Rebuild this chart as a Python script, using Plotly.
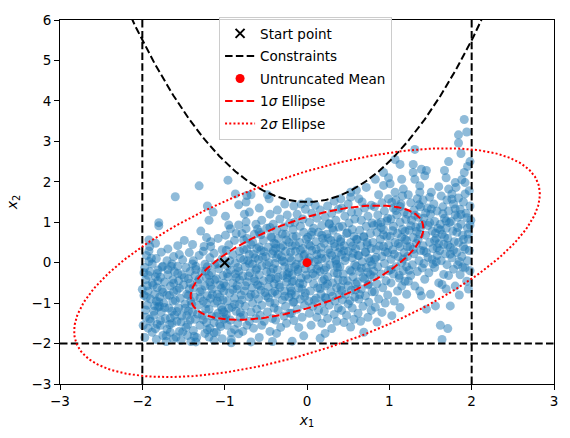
import numpy as np
import plotly.graph_objects as go

# ---------------- data ----------------
samples = [
# x1 in [-2.0,-1.8]
(-1.97,-1.85),(-1.93,-1.62),(-1.88,-1.72),(-1.83,-1.9),(-1.96,-1.35),(-1.9,-1.45),(-1.82,-1.52),(-1.99,-1.55),
(-1.86,-1.2),(-1.94,-1.05),(-1.81,-1.1),(-1.9,-0.9),(-1.85,-0.78),(-2.0,-0.66),(-1.93,-0.7),(-1.82,-0.62),
(-1.88,-0.5),(-1.96,-0.42),(-1.84,-0.35),(-1.91,-0.22),(-1.81,-0.18),(-1.97,-0.12),(-1.88,-0.03),(-1.92,0.03),
(-1.83,0.1),(-1.95,0.18),(-1.92,0.29),(-1.91,0.4),(-1.84,0.48),(-1.92,0.56),(-1.8,0.91),(-1.8,0.99),
(-1.86,-1.3),(-1.83,-0.95),(-1.95,-0.85),(-1.81,-0.45),(-1.98,-0.25),
# x1 in [-1.8,-1.6]
(-1.75,-1.8),(-1.62,-1.88),(-1.7,-1.65),(-1.78,-1.55),(-1.64,-1.5),(-1.72,-1.38),(-1.61,-1.3),(-1.77,-1.22),
(-1.68,-1.12),(-1.74,-1.0),(-1.63,-0.95),(-1.79,-0.85),(-1.7,-0.8),(-1.62,-0.72),(-1.76,-0.66),(-1.66,-0.58),
(-1.73,-0.48),(-1.63,-0.42),(-1.78,-0.36),(-1.69,-0.3),(-1.61,-0.22),(-1.75,-0.09),(-1.65,-0.09),(-1.7,0.05),
(-1.77,0.26),(-1.69,0.34),(-1.62,0.15),(-1.6,1.63),(-1.71,-1.95),(-1.66,-1.72),(-1.79,-1.08),(-1.64,-1.2),
# x1 in [-1.6,-1.4]
(-1.57,0.42),(-1.51,0.07),(-1.57,-0.09),(-1.59,-1.84),(-1.45,-1.8),(-1.55,-1.7),(-1.47,-1.6),(-1.58,-1.45),
(-1.42,-1.42),(-1.52,-1.32),(-1.44,-1.2),(-1.56,-1.12),(-1.48,-1.02),(-1.41,-0.95),(-1.54,-0.88),(-1.46,-0.78),
(-1.58,-0.68),(-1.43,-0.65),(-1.5,-0.55),(-1.56,-0.45),(-1.44,-0.4),(-1.52,-0.3),(-1.42,-0.22),(-1.47,-0.12),
(-1.55,0.2),(-1.43,0.25),(-1.49,0.55),(-1.41,-1.95),(-1.53,-1.92),
# x1 in [-1.4,-1.2]
(-1.31,1.9),(-1.21,1.4),(-1.29,0.78),(-1.35,-0.09),(-1.31,0.18),(-1.25,0.4),(-1.35,-1.96),(-1.24,-1.75),
(-1.38,-1.68),(-1.3,-1.55),(-1.22,-1.48),(-1.36,-1.4),(-1.27,-1.3),(-1.39,-1.22),(-1.23,-1.15),(-1.32,-1.05),
(-1.26,-0.95),(-1.37,-0.85),(-1.21,-0.82),(-1.3,-0.72),(-1.38,-0.62),(-1.24,-0.58),(-1.33,-0.48),(-1.22,-0.38),
(-1.36,-0.32),(-1.28,-0.22),(-1.21,-0.1),(-1.38,0.05),(-1.26,0.28),(-1.39,0.45),(-1.22,0.62),(-1.34,-1.85),
# x1 in [-1.2,-1.0]
(-1.14,1.25),(-1.19,1.05),(-1.17,0.52),(-1.17,0.4),(-1.13,0.23),(-1.03,0.32),(-1.19,-1.84),(-1.03,-1.88),
(-1.1,-1.72),(-1.18,-1.62),(-1.05,-1.58),(-1.13,-1.48),(-1.01,-1.4),(-1.16,-1.32),(-1.08,-1.25),(-1.19,-1.15),
(-1.04,-1.1),(-1.12,-1.0),(-1.02,-0.92),(-1.17,-0.88),(-1.09,-0.78),(-1.01,-0.7),(-1.15,-0.65),(-1.06,-0.55),
(-1.18,-0.48),(-1.1,-0.4),(-1.02,-0.32),(-1.16,-0.25),(-1.07,-0.15),(-1.12,-0.05),(-1.03,0.1),(-1.18,0.12),
(-1.08,0.6),(-1.13,-1.92),(-1.01,-1.22),(-1.06,-0.85),
# x1 in [-1.0,-0.8]
(-0.96,2.04),(-0.87,1.7),(-0.83,1.43),(-0.99,1.15),(-0.95,0.93),(-0.93,0.84),(-0.83,0.93),(-0.99,0.68),
(-0.95,0.44),(-0.87,-0.01),(-0.81,0.11),(-0.83,-1.76),(-0.92,-1.9),(-0.88,-1.65),(-0.97,-1.55),(-0.84,-1.5),
(-0.93,-1.42),(-0.81,-1.35),(-0.98,-1.28),(-0.86,-1.2),(-0.91,-1.1),(-0.82,-1.02),(-0.97,-0.95),(-0.88,-0.88),
(-0.8,-0.8),(-0.94,-0.75),(-0.85,-0.66),(-0.99,-0.58),(-0.9,-0.5),(-0.82,-0.42),(-0.96,-0.35),(-0.87,-0.28),
(-0.93,-0.18),(-0.84,-0.12),(-0.97,-0.08),(-0.9,0.2),(-0.82,0.28),(-0.98,0.3),(-0.88,0.55),(-0.86,0.72),(-0.92,-1.98),
# x1 in [-0.8,-0.6]
(-0.74,1.5),(-0.74,1.01),(-0.74,0.84),(-0.77,0.32),(-0.77,0.56),(-0.79,0.72),(-0.73,0.6),(-0.68,1.68),
(-0.73,1.66),(-0.68,-1.96),(-0.73,-1.55),(-0.78,-1.7),(-0.65,-1.62),(-0.7,-1.45),(-0.62,-1.38),(-0.77,-1.3),
(-0.68,-1.22),(-0.61,-1.15),(-0.75,-1.08),(-0.66,-1.0),(-0.79,-0.92),(-0.7,-0.85),(-0.63,-0.78),(-0.76,-0.7),
(-0.67,-0.62),(-0.6,-0.55),(-0.73,-0.48),(-0.64,-0.4),(-0.78,-0.33),(-0.69,-0.25),(-0.62,-0.18),(-0.75,-0.1),
(-0.66,-0.03),(-0.72,0.05),(-0.63,0.12),(-0.7,0.2),(-0.61,0.35),(-0.68,0.45),(-0.64,0.7),(-0.7,1.25),
(-0.62,0.95),(-0.76,1.2),
# x1 in [-0.6,-0.4]
(-0.48,1.68),(-0.46,1.58),(-0.55,-1.55),(-0.58,-1.85),(-0.45,-1.7),(-0.52,-1.45),(-0.42,-1.38),(-0.57,-1.3),
(-0.48,-1.22),(-0.4,-1.12),(-0.55,-1.05),(-0.45,-0.98),(-0.59,-0.9),(-0.5,-0.82),(-0.42,-0.75),(-0.56,-0.68),
(-0.47,-0.6),(-0.4,-0.52),(-0.53,-0.45),(-0.44,-0.38),(-0.58,-0.3),(-0.49,-0.22),(-0.41,-0.15),(-0.55,-0.08),
(-0.46,0.0),(-0.59,0.08),(-0.5,0.15),(-0.42,0.22),(-0.56,0.3),(-0.47,0.38),(-0.4,0.48),(-0.53,0.55),
(-0.44,0.65),(-0.58,0.75),(-0.49,0.85),(-0.41,0.95),(-0.55,1.05),(-0.45,1.2),(-0.58,1.35),(-0.42,-1.95),
# x1 in [-0.4,-0.2]
(-0.37,-1.75),(-0.32,-1.6),(-0.25,-1.5),(-0.38,-1.42),(-0.28,-1.32),(-0.21,-1.25),(-0.35,-1.18),(-0.26,-1.08),
(-0.39,-1.0),(-0.3,-0.92),(-0.22,-0.85),(-0.36,-0.78),(-0.27,-0.7),(-0.2,-0.62),(-0.34,-0.55),(-0.25,-0.48),
(-0.38,-0.4),(-0.29,-0.32),(-0.22,-0.25),(-0.36,-0.18),(-0.27,-0.1),(-0.39,-0.02),(-0.3,0.05),(-0.21,0.12),
(-0.35,0.2),(-0.26,0.28),(-0.38,0.35),(-0.29,0.42),(-0.22,0.5),(-0.35,0.6),(-0.26,0.7),(-0.37,0.8),
(-0.28,0.88),(-0.21,0.98),(-0.33,1.08),(-0.24,1.18),(-0.36,1.3),(-0.27,1.45),(-0.31,0.15),(-0.24,-0.38),
# x1 in [-0.2,0.0]
(-0.18,-1.94),(-0.04,-1.81),(-0.16,-1.43),(-0.1,-1.6),(-0.06,-1.35),(-0.19,-1.25),(-0.12,-1.15),(-0.03,-1.05),
(-0.17,-0.98),(-0.08,-0.9),(-0.14,-0.8),(-0.02,-0.75),(-0.19,-0.7),(-0.1,-0.62),(-0.05,-0.52),(-0.16,-0.45),
(-0.07,-0.38),(-0.18,-0.3),(-0.11,-0.22),(-0.02,-0.15),(-0.15,-0.1),(-0.06,-0.02),(-0.19,0.05),(-0.1,0.12),
(-0.03,0.2),(-0.14,0.28),(-0.05,0.35),(-0.18,0.42),(-0.09,0.5),(-0.01,0.58),(-0.13,0.65),(-0.04,0.75),
(-0.17,0.82),(-0.08,0.9),(-0.15,1.0),(-0.05,1.08),(-0.12,1.2),(-0.02,1.32),(-0.16,1.4),(-0.07,1.45),
# x1 in [0.0,0.2]
(0.16,-1.87),(0.12,-1.35),(0.05,-1.55),(0.18,-1.5),(0.03,-1.25),(0.14,-1.18),(0.07,-1.08),(0.19,-1.0),
(0.02,-0.95),(0.11,-0.88),(0.17,-0.78),(0.04,-0.7),(0.13,-0.62),(0.08,-0.52),(0.19,-0.45),(0.01,-0.4),
(0.1,-0.32),(0.16,-0.22),(0.05,-0.15),(0.14,-0.08),(0.09,0.02),(0.18,0.1),(0.03,0.12),(0.12,0.2),
(0.06,0.3),(0.17,0.38),(0.02,0.45),(0.11,0.52),(0.19,0.6),(0.05,0.68),(0.14,0.75),(0.08,0.85),
(0.18,0.92),(0.03,1.0),(0.12,1.1),(0.06,1.22),(0.16,1.3),(0.1,1.42),(0.02,1.5),
# x1 in [0.2,0.4]
(0.3,-1.63),(0.22,-1.75),(0.36,-1.45),(0.25,-1.38),(0.33,-1.28),(0.21,-1.2),(0.38,-1.12),(0.27,-1.05),
(0.34,-0.95),(0.23,-0.88),(0.39,-0.8),(0.29,-0.72),(0.36,-0.62),(0.22,-0.58),(0.31,-0.5),(0.38,-0.42),
(0.25,-0.35),(0.33,-0.25),(0.21,-0.18),(0.37,-0.12),(0.28,-0.05),(0.35,0.05),(0.23,0.1),(0.3,0.18),
(0.38,0.25),(0.26,0.32),(0.34,0.4),(0.21,0.48),(0.29,0.55),(0.37,0.62),(0.24,0.7),(0.32,0.8),
(0.39,0.88),(0.27,0.95),(0.35,1.05),(0.22,1.12),(0.3,1.22),(0.38,1.32),(0.25,1.4),(0.33,1.52),
# x1 in [0.4,0.6]
(0.41,1.58),(0.53,1.62),(0.53,1.74),(0.53,-1.59),(0.45,-1.48),(0.57,-1.4),(0.48,-1.3),(0.42,-1.18),
(0.55,-1.12),(0.5,-1.02),(0.43,-0.92),(0.58,-0.85),(0.47,-0.78),(0.54,-0.68),(0.41,-0.6),(0.59,-0.52),
(0.49,-0.45),(0.56,-0.35),(0.44,-0.28),(0.52,-0.18),(0.4,-0.1),(0.58,-0.05),(0.46,0.05),(0.55,0.12),
(0.42,0.2),(0.5,0.28),(0.59,0.35),(0.45,0.42),(0.53,0.5),(0.41,0.58),(0.57,0.65),(0.48,0.72),
(0.55,0.82),(0.43,0.9),(0.51,0.98),(0.58,1.08),(0.46,1.15),(0.54,1.25),(0.42,1.35),(0.5,1.45),
# x1 in [0.6,0.8]
(0.6,1.79),(0.63,1.58),(0.72,1.86),(0.69,-1.72),(0.65,-1.45),(0.74,-1.35),(0.62,-1.25),(0.78,-1.18),
(0.68,-1.08),(0.75,-0.98),(0.63,-0.9),(0.71,-0.82),(0.79,-0.72),(0.66,-0.65),(0.74,-0.55),(0.61,-0.48),
(0.7,-0.4),(0.77,-0.3),(0.64,-0.22),(0.72,-0.12),(0.79,-0.05),(0.67,0.02),(0.75,0.1),(0.62,0.18),
(0.71,0.25),(0.78,0.35),(0.65,0.42),(0.73,0.5),(0.6,0.58),(0.69,0.65),(0.77,0.72),(0.64,0.8),
(0.72,0.9),(0.79,0.98),(0.66,1.05),(0.74,1.15),(0.62,1.25),(0.7,1.35),(0.78,1.42),(0.67,1.5),
# x1 in [0.8,1.0]
(0.83,2.06),(0.93,2.23),(0.93,1.91),(0.99,2.1),(0.85,-1.47),(0.91,-1.23),(0.83,-1.1),(0.95,-1.0),
(0.87,-0.9),(0.98,-0.8),(0.82,-0.72),(0.92,-0.62),(0.85,-0.52),(0.96,-0.45),(0.81,-0.35),(0.9,-0.28),
(0.99,-0.2),(0.86,-0.1),(0.94,-0.02),(0.82,0.08),(0.91,0.15),(0.98,0.25),(0.84,0.32),(0.93,0.4),
(0.8,0.5),(0.89,0.58),(0.97,0.65),(0.85,0.75),(0.93,0.82),(0.81,0.92),(0.9,1.0),(0.98,1.1),
(0.86,1.18),(0.94,1.28),(0.82,1.38),(0.91,1.48),(0.99,1.58),(0.87,1.68),
# x1 in [1.0,1.2]
(1.07,2.55),(1.13,2.43),(1.15,2.06),(1.17,1.82),(1.07,1.74),(1.03,-1.31),(1.13,-1.11),(1.15,-0.58),
(1.21,-0.78),(1.19,-0.46),(1.06,-0.95),(1.1,-0.7),(1.02,-0.5),(1.12,-0.38),(1.05,-0.28),(1.17,-0.2),
(1.08,-0.1),(1.15,0.0),(1.02,0.08),(1.11,0.15),(1.18,0.25),(1.04,0.32),(1.13,0.4),(1.07,0.5),
(1.19,0.58),(1.01,0.65),(1.1,0.72),(1.16,0.82),(1.05,0.9),(1.13,1.0),(1.02,1.08),(1.09,1.18),
(1.18,1.25),(1.05,1.35),(1.14,1.45),(1.08,1.55),(1.16,1.65),(1.01,1.95),
# x1 in [1.2,1.4]
(1.31,2.8),(1.29,2.43),(1.29,2.23),(1.31,2.06),(1.37,1.9),(1.39,2.31),(1.37,1.74),(1.37,-0.7),
(1.39,-0.82),(1.23,-0.46),(1.21,-0.1),(1.26,-0.32),(1.34,-0.22),(1.28,-0.05),(1.36,0.05),(1.22,0.15),
(1.3,0.22),(1.38,0.3),(1.25,0.4),(1.33,0.48),(1.21,0.55),(1.29,0.62),(1.37,0.7),(1.24,0.8),
(1.32,0.88),(1.4,0.95),(1.27,1.05),(1.35,1.12),(1.22,1.2),(1.3,1.3),(1.38,1.38),(1.26,1.48),
(1.34,1.58),(1.23,1.68),(1.31,-0.58),
# x1 in [1.4,1.6]
(1.45,2.28),(1.43,2.15),(1.6,1.88),(1.51,1.74),(1.43,-0.41),(1.5,-0.78),(1.45,-1.15),(1.56,-1.07),
(1.48,-0.25),(1.55,-0.12),(1.42,-0.02),(1.52,0.08),(1.58,0.18),(1.45,0.25),(1.53,0.35),(1.41,0.42),
(1.49,0.5),(1.57,0.6),(1.44,0.68),(1.52,0.78),(1.59,0.85),(1.47,0.92),(1.55,1.02),(1.42,1.1),
(1.5,1.2),(1.58,1.28),(1.46,1.35),(1.54,1.45),(1.41,1.55),(1.49,1.62),(1.57,0.02),(1.6,-0.5),
# x1 in [1.6,1.8]
(1.72,2.5),(1.67,2.28),(1.69,2.1),(1.72,1.82),(1.66,-0.29),(1.64,-0.54),(1.78,-0.16),(1.69,-0.65),
(1.74,-1.07),(1.62,-1.55),(1.71,-1.63),(1.64,-1.9),(1.8,-0.58),(1.7,-0.05),(1.63,0.05),(1.76,0.12),
(1.68,0.22),(1.61,0.3),(1.74,0.38),(1.66,0.45),(1.79,0.52),(1.71,0.6),(1.64,0.7),(1.77,0.78),
(1.69,0.85),(1.62,0.95),(1.75,1.02),(1.67,1.1),(1.8,1.18),(1.72,1.28),(1.65,1.38),(1.78,1.45),
(1.7,1.55),(1.63,1.65),(1.76,1.7),(1.8,1.98),(1.72,-0.32),
# x1 in [1.8,2.0]
(1.91,3.54),(1.84,3.16),(1.94,3.23),(1.84,2.96),(1.98,2.5),(1.91,2.23),(1.92,1.98),(1.81,1.86),
(1.92,1.7),(1.92,-0.13),(1.94,-0.46),(1.86,-0.3),(1.98,-0.2),(1.83,-0.05),(1.95,0.05),(1.88,0.15),
(1.82,0.25),(1.97,0.3),(1.9,0.4),(1.84,0.5),(1.96,0.58),(1.89,0.68),(1.82,0.75),(1.95,0.85),
(1.87,0.95),(1.99,1.05),(1.83,1.12),(1.93,1.22),(1.86,1.32),(1.98,1.4),(1.9,1.5),(1.84,1.6),
(1.97,1.78),(1.88,2.05),(1.95,2.38),(1.87,2.7),(1.96,-0.65),(1.85,-0.8),
# denser core (centre)
(-0.71,-0.33),(-0.52,0.27),(-0.33,-0.61),(-0.14,0.43),(0.07,-0.27),(0.26,0.61),(0.44,-0.44),(0.63,0.17),(-0.66,0.51),(-0.47,-0.87),
(-0.28,0.02),(-0.09,-0.51),(0.11,0.33),(0.31,-0.83),(0.49,0.74),(0.68,-0.36),(-0.61,-0.14),(-0.43,0.62),(-0.24,-0.29),(-0.04,0.17),
(0.16,-0.64),(0.35,0.08),(0.54,-0.21),(0.73,0.44),(-0.77,0.07),(-0.57,-0.58),(-0.38,0.46),(-0.19,-0.77),(0.01,0.63),(0.21,-0.41),
(0.4,0.37),(0.59,-0.67),(0.77,0.03),(-0.68,-0.79),(-0.49,-0.05),(-0.3,0.71),(-0.11,-0.17),(0.09,-0.93),(0.28,0.24),(0.47,0.13),
(0.66,-0.14),(-0.73,0.34),(-0.54,0.13),(-0.35,-0.36),(-0.16,-0.97),(0.04,0.41),(0.23,-0.12),(0.42,-0.69),(0.61,0.57),(-0.63,-0.46),
(-0.44,-0.23),(-0.25,0.56),(-0.06,-0.66),(0.13,0.07),(0.33,0.47),(0.52,-0.94),(0.71,0.27),(-0.58,0.39),(-0.39,-0.71),(-0.2,0.26),
(-0.01,-0.31),(0.18,0.68),(0.37,-0.27),(0.56,0.23),(0.75,-0.53),(-0.75,-0.57),(-0.56,0.69),(-0.37,0.12),(-0.18,-0.47),(0.02,0.04),
(0.22,-0.86),(0.41,0.52),(0.6,-0.09),(-0.65,0.21),(-0.46,-0.41),(-0.27,-0.83),(-0.08,0.31),(0.12,-0.16),(0.31,0.86),(0.5,-0.57),
(0.69,0.63),(-0.7,-0.02),(-0.51,-0.74),(-0.32,0.37),(-0.13,-0.04),(0.06,0.76),(0.25,-0.53),(0.45,0.29),(0.64,-0.79),(-0.6,0.83),
(-0.41,0.29),(-0.22,-0.14),(-0.03,-0.84),(0.17,0.22),(0.36,-0.04),(0.55,0.41),(0.74,-0.24),(-0.45,0.87),(0.27,0.97),(-0.17,0.64),
# denser core (left)
(-1.96,-1.17),(-1.87,-0.56),(-1.78,-1.43),(-1.69,-0.17),(-1.6,-0.93),(-1.51,-1.71),(-1.42,-0.51),(-1.33,-1.27),(-1.24,-0.04),(-1.15,-0.79),
(-1.06,-1.52),(-0.97,-0.27),(-0.88,-1.03),(-1.93,-0.31),(-1.84,-1.63),(-1.75,-0.73),(-1.66,-1.37),(-1.57,-0.27),(-1.48,-1.13),(-1.39,-0.03),
(-1.3,-0.87),(-1.21,-1.66),(-1.12,-0.43),(-1.03,-1.17),(-0.94,0.05),(-0.85,-0.57),(-1.98,-0.81),(-1.89,0.11),(-1.8,-0.97),(-1.71,-1.81),
(-1.62,-0.51),(-1.53,-1.47),(-1.44,-0.81),(-1.35,-0.17),(-1.26,-1.41),(-1.17,-0.57),(-1.08,-0.03),(-0.99,-1.37),(-0.9,-0.67),(-0.81,-1.23),
(-1.91,-1.39),(-1.82,-0.27),(-1.73,-1.11),(-1.64,-0.03),(-1.55,-0.63),(-1.46,-1.31),(-1.37,-1.82),(-1.28,-0.67),(-1.19,-0.31),(-1.1,-1.33),
(-1.01,-0.51),(-0.92,-1.73),(-0.83,-0.21),(-1.94,-0.57),(-1.85,-1.07),(-1.76,-0.11),(-1.67,-0.81),(-1.58,-1.21),(-1.49,-0.37),(-1.4,-1.03),
(-1.31,-0.41),(-1.22,-1.01),(-1.13,-1.73),(-1.04,-0.63),(-0.95,-1.13),(-0.86,-0.37),(-1.67,-1.53),(-1.45,-1.53),(-1.23,-0.21),(-1.09,-0.95),
# denser core (right)
(0.84,0.13),(0.93,0.69),(1.02,-0.17),(1.11,0.47),(1.2,1.07),(1.29,0.33),(1.38,0.87),(1.47,0.13),(1.56,0.73),(1.65,1.21),
(1.74,0.21),(1.83,0.87),(1.92,0.33),(0.88,0.41),(0.97,1.03),(1.06,0.21),(1.15,0.63),(1.24,-0.19),(1.33,0.77),(1.42,0.29),
(1.51,1.33),(1.6,0.47),(1.69,1.03),(1.78,0.31),(1.87,1.19),(1.96,0.71),(0.81,-0.21),(0.9,0.87),(0.99,0.43),(1.08,1.29),
(1.17,0.09),(1.26,0.91),(1.35,0.57),(1.44,1.23),(1.53,-0.03),(1.62,0.81),(1.71,0.43),(1.8,1.33),(1.89,-0.11),(1.98,0.93),
(0.86,0.97),(0.95,0.27),(1.04,0.79),(1.13,1.39),(1.22,0.39),(1.31,1.17),(1.4,-0.13),(1.49,0.99),(1.58,0.37),(1.67,0.63),
(1.76,1.57),(1.85,0.03),(1.94,1.11),(1.03,1.49),(1.19,0.77),(1.36,1.43),(1.55,0.55),(1.73,0.99),(1.9,0.57),(1.12,-0.31),
]
sample_x1 = [p[0] for p in samples]
sample_x2 = [p[1] for p in samples]

start_point = [-1.0, 0.0]
mean = [0.0, 0.0]
cov = [[2.0, 1.2], [1.2, 2.0]]
x1_bounds = [-2.0, 2.0]
x2_lower = -2.0
parabola_offset = 1.5          # x2 <= x1^2 + offset
x_range = [-3, 3]
y_range = [-3, 6]

# ---------------- figure ----------------
BLUE = "#1f77b4"
FONT = "DejaVu Sans"
fig = go.Figure()

fig.add_trace(go.Scatter(x=sample_x1, y=sample_x2, mode="markers", showlegend=False,
                         marker=dict(color=BLUE, size=9, opacity=0.5, line=dict(width=0)),
                         hoverinfo="skip"))

L = np.linalg.cholesky(np.array(cov))
t = np.linspace(0, 2 * np.pi, 300)
circ = np.vstack([np.cos(t), np.sin(t)])

fig.add_trace(go.Scatter(x=[start_point[0]], y=[start_point[1]], mode="markers",
                         name="Start point", legendgroup="a",
                         marker=dict(symbol="x-thin", size=9, color="black",
                                     line=dict(width=2, color="black"))))

dash_k = "7.5px,3.3px"
pc_x = np.linspace(-2.3, 2.3, 300)
pc_y = pc_x ** 2 + parabola_offset
fig.add_trace(go.Scatter(x=[x1_bounds[0], x1_bounds[0]], y=y_range, mode="lines",
                         name="Constraints", legendgroup="b",
                         line=dict(color="black", width=2, dash=dash_k)))
fig.add_trace(go.Scatter(x=[x1_bounds[1], x1_bounds[1]], y=y_range, mode="lines",
                         showlegend=False, legendgroup="b",
                         line=dict(color="black", width=2, dash=dash_k)))
fig.add_trace(go.Scatter(x=x_range, y=[x2_lower, x2_lower], mode="lines",
                         showlegend=False, legendgroup="b",
                         line=dict(color="black", width=2, dash=dash_k)))
fig.add_trace(go.Scatter(x=pc_x, y=pc_y, mode="lines", showlegend=False, legendgroup="b",
                         line=dict(color="black", width=2, dash=dash_k)))

fig.add_trace(go.Scatter(x=[mean[0]], y=[mean[1]], mode="markers",
                         name="Untruncated Mean", legendgroup="c",
                         marker=dict(symbol="circle", size=9, color="red")))

for k, nm, dsh, grp in [(1, "1<i>σ</i> Ellipse", "7.5px,3.3px", "d"),
                        (2, "2<i>σ</i> Ellipse", "2px,2.2px", "e")]:
    pts = np.array(mean)[:, None] + k * (L @ circ)
    fig.add_trace(go.Scatter(x=pts[0], y=pts[1], mode="lines", name=nm, legendgroup=grp,
                             line=dict(color="red", width=2, dash=dsh)))

axis_common = dict(showgrid=False, zeroline=False, showline=True, mirror=True,
                   linecolor="black", linewidth=1, ticks="outside", ticklen=5,
                   tickwidth=1, tickcolor="black", dtick=1,
                   tickfont=dict(family=FONT, size=13.5, color="black"))
fig.update_xaxes(range=x_range, title=dict(text="<i>x</i><sub>1</sub>", standoff=6,
                 font=dict(family=FONT, size=14, color="black")), **axis_common)
fig.update_yaxes(range=y_range, title=dict(text="<i>x</i><sub>2</sub>", standoff=10,
                 font=dict(family=FONT, size=14, color="black")), **axis_common)

fig.update_layout(
    width=570, height=438,
    margin=dict(l=60, r=14, t=15, b=54),
    plot_bgcolor="white", paper_bgcolor="white",
    font=dict(family=FONT, size=14, color="black"),
    legend=dict(x=0.322, y=1.008, xanchor="left", yanchor="top",
                bgcolor="rgba(255,255,255,0.8)", bordercolor="#cccccc", borderwidth=1,
                font=dict(family=FONT, size=13.5, color="black"),
                traceorder="grouped", tracegroupgap=2, itemwidth=30),
)

fig.write_html("out.html")
